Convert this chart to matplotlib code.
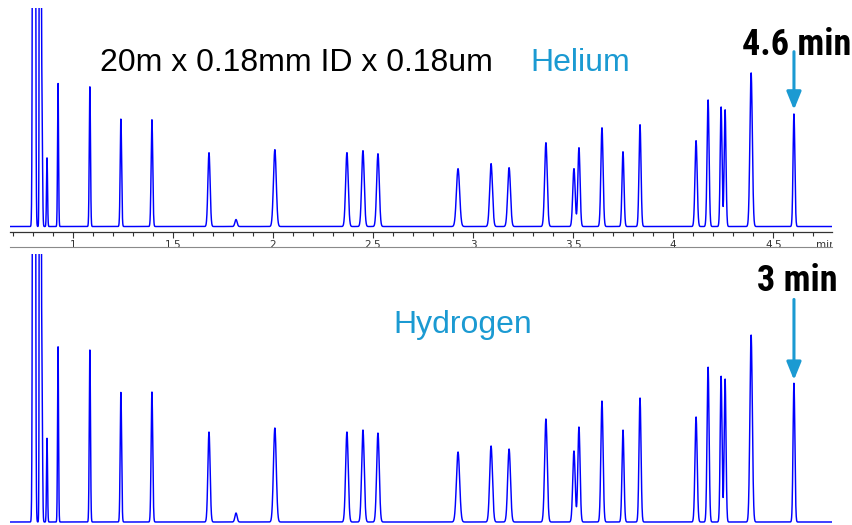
import matplotlib
matplotlib.use("Agg")
import matplotlib.pyplot as plt
from matplotlib.ticker import FixedFormatter, FixedLocator
from matplotlib.transforms import Bbox, TransformedBbox
import numpy as np

# retention times (min, helium run) and peak heights for both carrier gases
retention = [0.807, 0.838, 0.846, 0.872, 0.927, 1.086, 1.241, 1.396, 1.681,
             1.816, 2.010, 2.370, 2.450, 2.525, 2.925, 3.090, 3.180, 3.364,
             3.504, 3.529, 3.644, 3.749, 3.834, 4.114, 4.174, 4.239, 4.259,
             4.389, 4.603]
height_he = [3000, 3000, 139, 69, 144, 140, 108, 107, 74,
             7, 77, 74, 76, 73, 58, 63, 59, 84,
             58, 79, 99, 75, 102, 86, 127, 120, 117,
             154, 113]
height_h2 = [3000, 3000, 170, 84, 176, 172, 130, 130, 90,
             9, 94, 90, 92, 89, 70, 76, 73, 103,
             71, 95, 121, 92, 124, 105, 155, 146, 143,
             187, 139]
peak_sigma = [0.0040, 0.0025, 0.0030, 0.0025, 0.0025, 0.0030, 0.0035, 0.0040, 0.0055,
              0.0055, 0.0070, 0.0065, 0.0065, 0.0065, 0.0080, 0.0070, 0.0070, 0.0065,
              0.0060, 0.0055, 0.0055, 0.0050, 0.0050, 0.0055, 0.0050, 0.0045, 0.0045,
              0.0060, 0.0045]

major_ticks = [1, 1.5, 2, 2.5, 3, 3.5, 4, 4.5]
major_labels = ["1", "1.5", "2", "2.5", "3", "3.5", "4", "4.5"]

W, H = 853, 525
t = np.linspace(0.687, 4.793, 6000)


def trace(heights):
    y = np.zeros_like(t)
    for rt, h, s in zip(retention, heights, peak_sigma):
        y += h * np.exp(-0.5 * ((t - rt) / s) ** 2)
    return y


def px_axes(fig, x0, y0, x1, y1):
    # axes from pixel box given with top-left origin
    return fig.add_axes([x0 / W, 1 - y1 / H, (x1 - x0) / W, (y1 - y0) / H])


fig = plt.figure(figsize=(W / 100, H / 100), dpi=100)
blue = "#0000ff"
cyan = "#1b9ad2"

# helium chromatogram with time axis
ax1 = px_axes(fig, 10, 8, 832, 232)
ax1.plot(t, trace(height_he), color=blue, lw=1.05)
ax1.set_xlim(0.687, 4.793)
ax1.set_ylim(-5.5, 219)
for s in ["top", "left", "right"]:
    ax1.spines[s].set_visible(False)
ax1.spines["bottom"].set_color("#333333")
ax1.spines["bottom"].set_linewidth(0.9)
ax1.set_yticks([])
ax1.xaxis.set_major_locator(FixedLocator(major_ticks))
ax1.xaxis.set_major_formatter(FixedFormatter(major_labels))
ax1.xaxis.set_minor_locator(FixedLocator(np.arange(0.7, 4.75, 0.1)))
ax1.tick_params(axis="x", which="major", length=4, width=0.8, color="#333333",
                labelsize=7.5, labelcolor="#333333", pad=1.5)
ax1.tick_params(axis="x", which="minor", length=3, width=0.8, color="#333333")
ax1.patch.set_visible(False)

mtxt = ax1.text(4.715, -0.036, "min", transform=ax1.get_xaxis_transform(),
                fontsize=7.5, color="#333333", ha="left", va="top")
mtxt.set_clip_box(TransformedBbox(Bbox.from_extents(0, 0, 832 / W, 1), fig.transFigure))
mtxt.set_clip_on(True)

# hydrogen chromatogram
ax2 = px_axes(fig, 10, 254, 832, 523)
ax2.plot(t, trace(height_h2), color=blue, lw=1.05)
ax2.set_xlim(0.687, 4.793)
ax2.set_ylim(-1, 268)
ax2.axis("off")

# separator between panels
fig.add_artist(plt.Line2D([10 / W, 832 / W], [1 - 247 / H, 1 - 247 / H],
                          color="#8a8a8a", lw=0.8))

fs = 23
fig.text(100 / W, 1 - 71 / H, "20m x 0.18mm ID x 0.18um", fontsize=fs,
         family="Liberation Sans", color="black", va="baseline")
fig.text(530 / W, 1 - 71 / H, "Helium", fontsize=fs,
         family="Liberation Sans", color=cyan, va="baseline")
fig.text(393 / W, 1 - 333 / H, "Hydrogen", fontsize=fs,
         family="Liberation Sans", color=cyan, va="baseline")

bold = dict(fontsize=26, fontweight="bold", fontstretch="condensed",
            family=["Roboto Condensed", "DejaVu Sans"],
            color="black", va="baseline")
fig.text(742 / W, 1 - 55 / H, "4.6 min", **bold)
fig.text(757 / W, 1 - 291 / H, "3 min", **bold)

arrow = dict(arrowstyle="-|>,head_length=0.54,head_width=0.22", color=cyan,
             lw=2.2, mutation_scale=20, shrinkA=0, shrinkB=0)
last = len(retention) - 1
ax1.annotate("", xy=(retention[last], height_he[last] + 4),
             xytext=(0, 41.8), textcoords="offset points", arrowprops=arrow,
             annotation_clip=False)
ax2.annotate("", xy=(retention[last], height_h2[last] + 3),
             xytext=(0, 58), textcoords="offset points", arrowprops=arrow,
             annotation_clip=False)

fig.savefig("out.png", dpi=100)
